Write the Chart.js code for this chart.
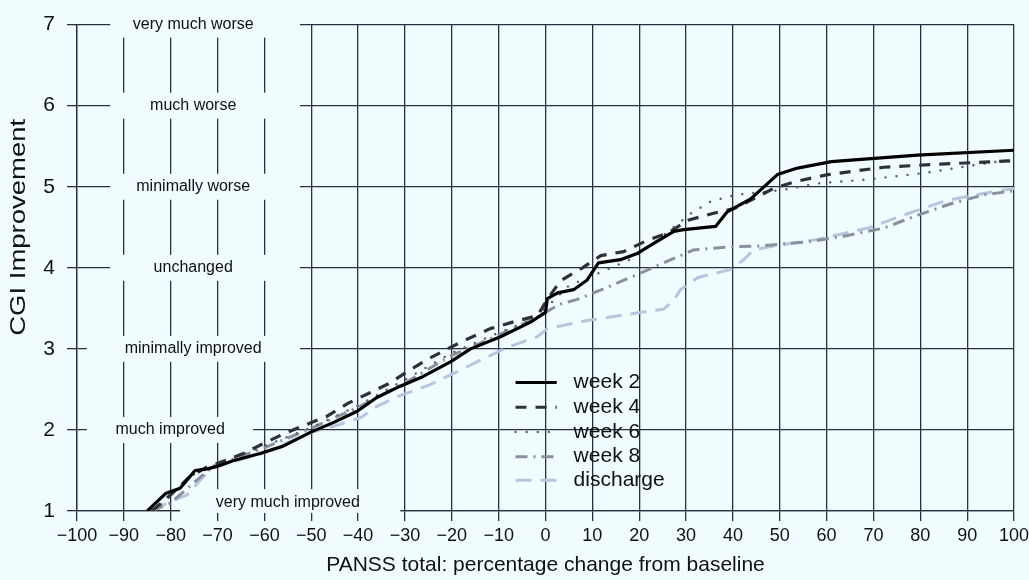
<!DOCTYPE html>
<html>
<head>
<meta charset="utf-8">
<script src="https://cdn.jsdelivr.net/npm/chart.js@4"></script>
<style>
  html, body { margin: 0; padding: 0; background: #f0fcff; }
  #wrap { width: 1029px; height: 580px; position: relative; }
</style>
</head>
<body>
<div id="wrap"><canvas id="chart"></canvas></div>
<script>
// PANSS % change (x) vs CGI improvement (y)
const week2 = [
  [-85, 1], [-81, 1.22], [-78, 1.28], [-74.8, 1.5], [-72.2, 1.52], [-70.1, 1.55],
  [-66.7, 1.62], [-60.9, 1.71], [-56, 1.8], [-50.2, 1.97], [-45.3, 2.09], [-40.2, 2.23],
  [-36, 2.4], [-31, 2.54], [-26.1, 2.66], [-20.3, 2.84], [-16, 3.0], [-9.6, 3.15],
  [-3.2, 3.33], [0, 3.45], [0.4, 3.62], [2.6, 3.69], [6, 3.73], [8.9, 3.85],
  [11.3, 4.06], [16, 4.1], [19.7, 4.18], [23.1, 4.3], [27.4, 4.45], [29.5, 4.47],
  [36.3, 4.51], [38.8, 4.69], [43.8, 4.85], [49.5, 5.15], [53.8, 5.23], [61, 5.31],
  [79.4, 5.39], [100, 5.45]
];
const week4 = [
  [-84, 1], [-80, 1.2], [-76, 1.42], [-72, 1.55], [-69.4, 1.6], [-64.5, 1.71],
  [-60.3, 1.83], [-55.6, 1.96], [-50.9, 2.07], [-46.6, 2.17], [-42.1, 2.33], [-37.8, 2.45],
  [-33.5, 2.57], [-29.5, 2.72], [-25.2, 2.87], [-20.9, 3.0], [-16.7, 3.12], [-11.8, 3.25],
  [-7, 3.33], [-1.7, 3.41], [0.4, 3.61], [3.2, 3.84], [7.9, 4.0], [11.8, 4.15],
  [16.7, 4.2], [21.4, 4.33], [26.1, 4.43], [30.6, 4.59], [35.7, 4.67], [40.2, 4.73],
  [44.4, 4.85], [48.7, 4.98], [53.8, 5.07], [60.3, 5.15], [72.2, 5.24], [84.4, 5.28],
  [100, 5.32]
];
const week6 = [
  [-84, 1], [-80, 1.18], [-75, 1.45], [-70, 1.58], [-60, 1.8], [-50, 2.03],
  [-40, 2.3], [-30, 2.62], [-20, 2.95], [-10, 3.2], [-2, 3.38], [0, 3.5],
  [5, 3.78], [12, 3.95], [18, 4.1], [23, 4.3], [31, 4.67], [35.3, 4.82],
  [40.6, 4.9], [44, 4.92], [50.6, 4.96], [58, 5.04], [68.8, 5.09], [81, 5.17],
  [90.8, 5.26], [100, 5.34]
];
const week8 = [
  [-84, 1], [-80, 1.1], [-76, 1.3], [-72, 1.5], [-70, 1.57], [-60, 1.78],
  [-50, 2.02], [-40, 2.28], [-30, 2.58], [-20, 2.92], [-12, 3.12], [-7, 3.25],
  [-1.7, 3.39], [0, 3.45], [3, 3.55], [6.8, 3.61], [13.2, 3.76], [19.7, 3.92],
  [25.2, 4.06], [31.6, 4.22], [39.5, 4.26], [46, 4.27], [56, 4.32], [63.7, 4.39],
  [72.2, 4.49], [79.5, 4.65], [86.5, 4.79], [93.6, 4.9], [100, 4.95]
];
const discharge = [
  [-84, 1], [-82.9, 1.04], [-79.5, 1.13], [-76.5, 1.2], [-73.7, 1.38], [-71, 1.54],
  [-66, 1.62], [-60, 1.72], [-50, 1.97], [-45, 2.05], [-39.5, 2.15], [-36, 2.29],
  [-31.6, 2.41], [-24.6, 2.56], [-18.8, 2.72], [-13.2, 2.88], [-8.1, 3.02], [-1.7, 3.15],
  [0.4, 3.25], [8.9, 3.35], [20.3, 3.45], [25.2, 3.49], [27.4, 3.6], [28.8, 3.73],
  [32.5, 3.88], [39.5, 3.98], [42.3, 4.1], [44.4, 4.22], [48.7, 4.27], [58, 4.35],
  [68.8, 4.49], [77.4, 4.67], [85, 4.82], [90.8, 4.89], [100, 4.98]
];

const seriesNames = ['week 2', 'week 4', 'week 6', 'week 8', 'discharge'];
const ratingNames = ['very much worse', 'much worse', 'minimally worse', 'unchanged',
  'minimally improved', 'much improved', 'very much improved'];
const xTitle = 'PANSS total: percentage change from baseline';
const yTitle = 'CGI Improvement';

const BG = '#f0fcff';
const GRID = '#283040';
const FONT = '"Liberation Sans", Arial, sans-serif';

// where the rating captions sit (data units) and the blank box behind each
const captionSpots = [
  { x: -75.2, y: 7,   x0: -92.9, x1: -52.4 },
  { x: -75.2, y: 6,   x0: -92.9, x1: -52.4 },
  { x: -75.2, y: 5,   x0: -92.9, x1: -52.4 },
  { x: -75.2, y: 4,   x0: -92.9, x1: -52.4 },
  { x: -75.2, y: 3,   x0: -97.9, x1: -52.4 },
  { x: -80.1, y: 2,   x0: -97.9, x1: -62.4 },
  { x: -55.0, y: 1.1, x0: -78,   x1: -31, y0: 0.976, y1: 1.27 }
];

const toXY = arr => arr.map(([x, y]) => ({ x, y }));

const styles = [
  { color: '#000000', width: 3.2, dash: [] },
  { color: '#2e3138', width: 3.2, dash: [11, 9] },
  { color: '#5c6272', width: 2.4, dash: [0.1, 11], cap: 'round' },
  { color: '#8a909e', width: 3, dash: [12, 6, 2, 6] },
  { color: '#b9c5df', width: 3, dash: [16, 9] }
];

const allSeries = [week2, week4, week6, week8, discharge];

const bgPlugin = {
  id: 'bg',
  beforeDraw(chart) {
    const { ctx, width, height } = chart;
    ctx.save();
    ctx.fillStyle = BG;
    ctx.fillRect(0, 0, width, height);
    ctx.restore();
  }
};

const captionPlugin = {
  id: 'captions',
  beforeDatasetsDraw(chart) {
    const { ctx } = chart;
    const xs = chart.scales.x, ys = chart.scales.y;
    ctx.save();
    captionSpots.forEach((c, i) => {
      const px0 = xs.getPixelForValue(c.x0), px1 = xs.getPixelForValue(c.x1);
      let py0, py1;
      if (c.y0 !== undefined) {
        py0 = ys.getPixelForValue(c.y1);
        py1 = ys.getPixelForValue(c.y0);
      } else {
        const cy = ys.getPixelForValue(c.y);
        py0 = cy - 13; py1 = cy + 13;
      }
      ctx.fillStyle = BG;
      ctx.fillRect(px0, py0, px1 - px0, py1 - py0);
      ctx.fillStyle = '#111';
      ctx.font = '16px ' + FONT;
      ctx.textAlign = 'center';
      ctx.textBaseline = 'middle';
      ctx.fillText(ratingNames[i], xs.getPixelForValue(c.x), ys.getPixelForValue(c.y));
    });
    ctx.restore();
  }
};

const legendSpots = [2.585, 2.28, 1.976, 1.67, 1.38];

const legendPlugin = {
  id: 'inlineLegend',
  afterDatasetsDraw(chart) {
    const { ctx } = chart;
    const xs = chart.scales.x, ys = chart.scales.y;
    const lx0 = xs.getPixelForValue(-6.4), lx1 = xs.getPixelForValue(2.4);
    const tx = xs.getPixelForValue(6.0);
    ctx.save();
    styles.forEach((s, i) => {
      const y = ys.getPixelForValue(legendSpots[i]);
      ctx.strokeStyle = s.color;
      ctx.lineWidth = s.width;
      ctx.lineCap = s.cap || 'butt';
      ctx.setLineDash(s.dash);
      ctx.beginPath();
      ctx.moveTo(lx0, y);
      ctx.lineTo(lx1, y);
      ctx.stroke();
      ctx.setLineDash([]);
      ctx.fillStyle = '#111';
      ctx.font = '21px ' + FONT;
      ctx.textAlign = 'left';
      ctx.textBaseline = 'middle';
      ctx.fillText(seriesNames[i], tx, y);
    });
    ctx.restore();
  }
};

// y title is drawn stretched along its length, like the original
const yTitlePlugin = {
  id: 'yTitle',
  afterDraw(chart) {
    const { ctx } = chart;
    const ys = chart.scales.y;
    ctx.save();
    ctx.translate(19, ys.getPixelForValue(4.5));
    ctx.rotate(-Math.PI / 2);
    ctx.scale(1.25, 1);
    ctx.fillStyle = '#111';
    ctx.font = '22px ' + FONT;
    ctx.textAlign = 'center';
    ctx.textBaseline = 'middle';
    ctx.fillText(yTitle, 0, 0);
    ctx.restore();
  }
};

new Chart(document.getElementById('chart'), {
  type: 'line',
  data: {
    datasets: allSeries.map((d, i) => ({
      label: seriesNames[i],
      data: toXY(d),
      borderColor: styles[i].color,
      borderWidth: styles[i].width,
      borderDash: styles[i].dash,
      borderCapStyle: styles[i].cap || 'butt',
      borderJoinStyle: 'round',
      pointRadius: 0,
      tension: 0,
      fill: false
    }))
  },
  options: {
    responsive: true,
    maintainAspectRatio: false,
    animation: false,
    layout: { padding: { left: 0, top: 19, right: 15, bottom: 0 } },
    plugins: {
      legend: { display: false },
      tooltip: { enabled: false }
    },
    scales: {
      x: {
        type: 'linear',
        min: -100,
        max: 100,
        ticks: {
          stepSize: 10,
          color: '#111',
          padding: 4,
          maxRotation: 0,
          autoSkip: false,
          font: { size: 18, family: FONT },
          callback: v => (v < 0 ? '\u2212' + Math.abs(v) : String(v))
        },
        grid: { color: GRID, lineWidth: 1.3, tickLength: 10, drawTicks: true },
        border: { display: true, color: GRID, width: 1.3 },
        title: {
          display: true,
          text: xTitle,
          color: '#111',
          padding: { top: 2, bottom: 2 },
          font: { size: 21, family: FONT }
        },
        afterFit(scale) {
          scale.height = 69;
          scale.paddingRight = 0;
        }
      },
      y: {
        min: 1,
        max: 7,
        ticks: {
          stepSize: 1,
          color: '#111',
          padding: 12,
          font: { size: 21, family: FONT }
        },
        grid: { color: GRID, lineWidth: 1.3, tickLength: 10, drawTicks: true },
        border: { display: true, color: GRID, width: 1.3 },
        title: { display: false },
        afterFit(scale) { scale.width = 77; }
      }
    }
  },
  plugins: [bgPlugin, captionPlugin, legendPlugin, yTitlePlugin]
});
</script>
</body>
</html>
